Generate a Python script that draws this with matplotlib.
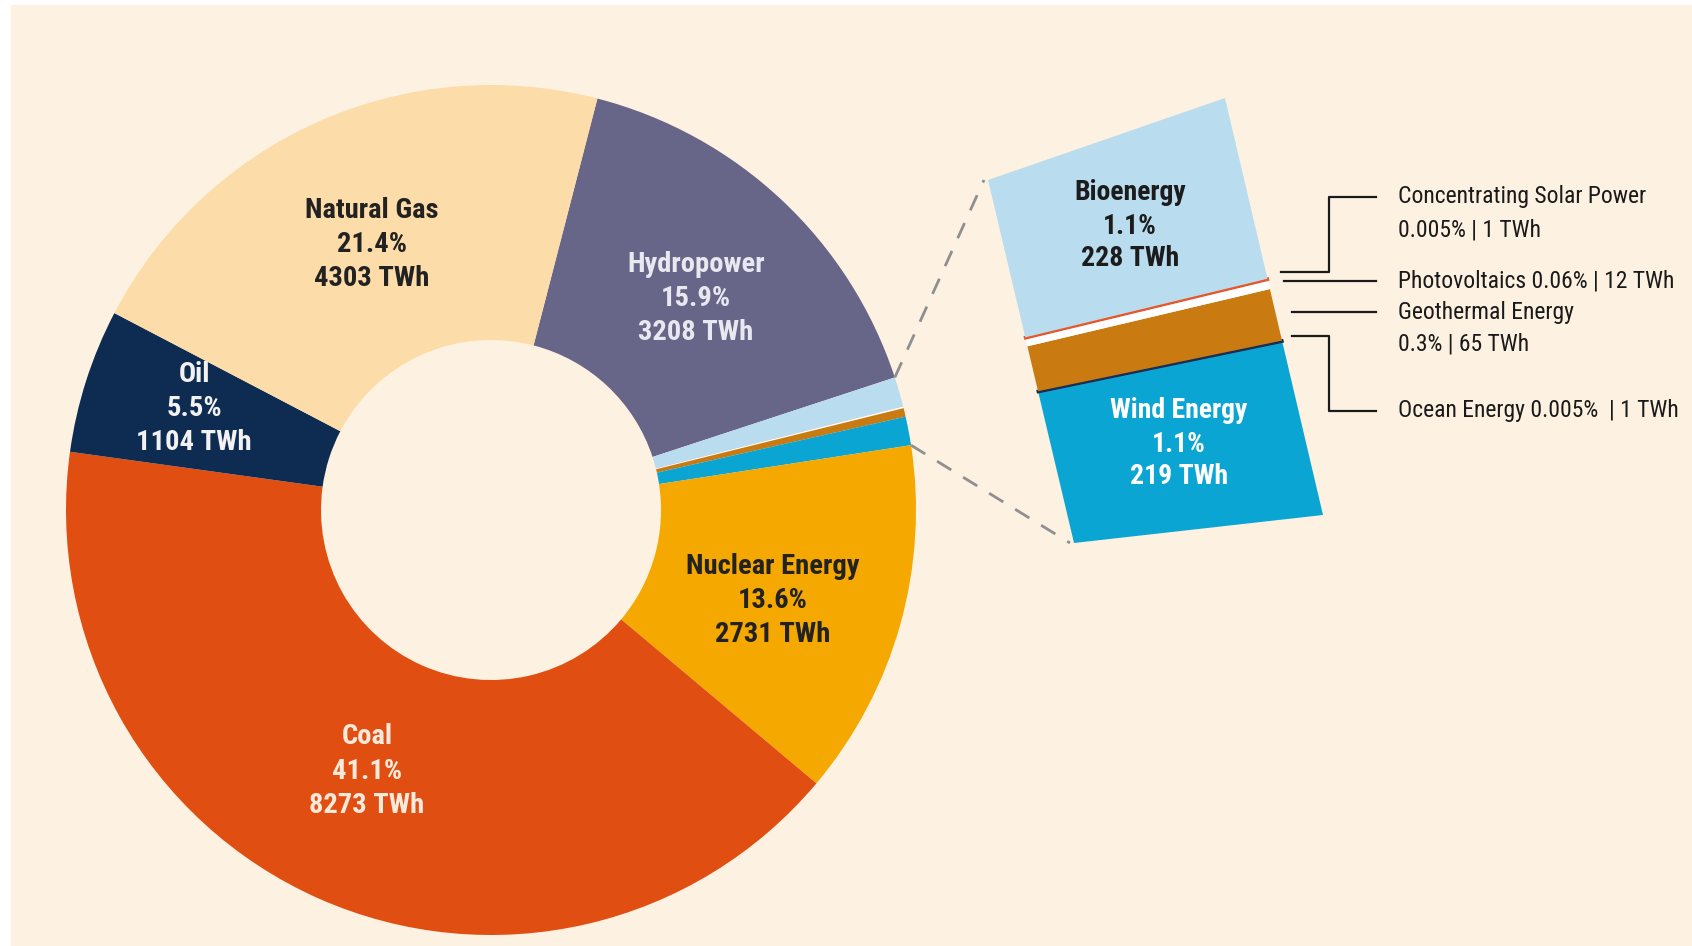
import matplotlib.pyplot as plt
import numpy as np
from matplotlib.patches import Rectangle, Polygon

plt.rcParams['font.family'] = ['Roboto Condensed', 'Roboto', 'DejaVu Sans']

W, H = 1692, 946

# donut slices, clockwise starting from the top right
sources = ['Hydropower', 'Bioenergy', 'Concentrating Solar Power', 'Photovoltaics',
           'Geothermal Energy', 'Ocean Energy', 'Wind Energy', 'Nuclear Energy',
           'Coal', 'Oil', 'Natural Gas']
twh = [3208, 228, 1, 12, 65, 1, 219, 2731, 8273, 1104, 4303]
shares = ['15.9%', '1.1%', '0.005%', '0.06%', '0.3%', '0.005%', '1.1%',
          '13.6%', '41.1%', '5.5%', '21.4%']
colors = ['#686688', '#b9ddee', '#e8562a', '#ffffff', '#c97b12', '#1b2d52',
          '#0ba5d3', '#f5a900', '#e04e12', '#0e2c52', '#fcdca8']
text_colors = {'Hydropower': '#e8e8f0', 'Nuclear Energy': '#222222', 'Coal': '#fbeadc',
               'Oil': '#f2f2f2', 'Natural Gas': '#222222'}

# the small renewables shown in the zoomed panel (indices into the lists above)
detail = [6, 5, 4, 3, 2, 1]   # bottom to top: wind, ocean, geo, pv, csp, bio

def Y(y):
    # image rows (top down) to axes coords (bottom up)
    return H - y

fig = plt.figure(figsize=(W / 100, H / 100), dpi=100, facecolor='white')
ax = fig.add_axes([0, 0, 1, 1])
ax.add_patch(Rectangle((11, 0), W, H - 5, color='#fdf2e2', zorder=0))

cx, cy, R = 491, Y(510), 425
start = 75.5
ax.pie(twh, colors=colors, startangle=start, counterclock=False, radius=R,
       center=(cx, cy), wedgeprops=dict(width=R * 0.6, edgecolor='none'))

ax.set_xlim(0, W)
ax.set_ylim(0, H)
ax.set_aspect('equal')
ax.axis('off')

def block(x, y, lines, color, size, gap=34, weight='bold'):
    for i, s in enumerate(lines):
        ax.text(x, Y(y + i * gap), s, ha='center', va='center', color=color,
                fontsize=size, fontweight=weight, zorder=5)

label_pos = {'Natural Gas': (372, 210), 'Hydropower': (696, 264), 'Oil': (194, 375),
             'Nuclear Energy': (773, 566), 'Coal': (367, 737)}
for name, (x, y) in label_pos.items():
    i = sources.index(name)
    block(x, y, [name, shares[i], f'{twh[i]} TWh'], text_colors[name], 20.5)

# zoomed panel: bilinear frame, bands from cumulative values
TL, TR = np.array([988, Y(180)]), np.array([1225, Y(98)])
BL, BR = np.array([1074, Y(543)]), np.array([1323, Y(515)])

def pt(u, f):
    left = BL + f * (TL - BL)
    right = BR + f * (TR - BR)
    return left + u * (right - left)

vals = np.array([twh[i] for i in detail], dtype=float)
edges = np.concatenate([[0], np.cumsum(vals)]) / vals.sum()
for k, i in enumerate(detail):
    f0, f1 = edges[k], edges[k + 1]
    poly = [pt(0, f0), pt(1, f0), pt(1, f1), pt(0, f1)]
    thin = twh[i] < 5
    ax.add_patch(Polygon(poly, closed=True, facecolor=colors[i],
                         edgecolor=colors[i] if thin else 'none',
                         linewidth=2.2 if thin else 0, zorder=3))

# dashed connectors from the donut rim to the panel corners
tot = sum(twh)
a_top = np.radians(start - 360 * twh[0] / tot)
a_bot = np.radians(start - 360 * sum(twh[:7]) / tot)
for a, corner in [(a_top, TL), (a_bot, BL)]:
    p = (cx + R * np.cos(a), cy + R * np.sin(a))
    ax.plot([p[0], corner[0] - 4], [p[1], corner[1]], ls=(0, (6, 5)), color='#8f8f8f',
            lw=2, zorder=2)

block(1130, 193, ['Bioenergy', shares[1], f'{twh[1]} TWh'], '#1c1c1c', 20, gap=33)
block(1179, 411, ['Wind Energy', shares[6], f'{twh[6]} TWh'], '#ffffff', 20, gap=33)

# leader lines and side labels
lc = dict(color='#1a1a1a', lw=1.6, zorder=4)
ax.plot([1281, 1329, 1329, 1376], [Y(272), Y(272), Y(197), Y(197)], **lc)
ax.plot([1284, 1376], [Y(281), Y(281)], **lc)
ax.plot([1292, 1376], [Y(312), Y(312)], **lc)
ax.plot([1292, 1329, 1329, 1376], [Y(336), Y(336), Y(411), Y(411)], **lc)

side = dict(ha='left', va='center', color='#1a1a1a', fontsize=17, zorder=5)
ax.text(1398, Y(197), sources[2], **side)
ax.text(1398, Y(230), f'{shares[2]} | {twh[2]} TWh', **side)
ax.text(1398, Y(281), f'{sources[3]} {shares[3]} | {twh[3]} TWh', **side)
ax.text(1398, Y(313), sources[4], **side)
ax.text(1398, Y(344), f'{shares[4]} | {twh[4]} TWh', **side)
ax.text(1398, Y(411), f'{sources[5]} {shares[5]}  | {twh[5]} TWh', **side)

fig.savefig('out.png', dpi=100, facecolor='white')
